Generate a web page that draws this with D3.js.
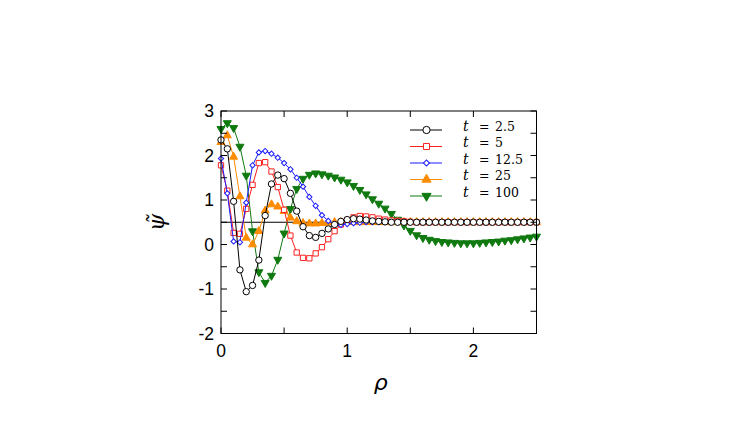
<!DOCTYPE html>
<html lang="en">
<head>
<meta charset="UTF-8">
<title>psi tilde vs rho</title>
<style>
  body { margin: 0; background: #fff; }
  .tick-label { font: 17.5px "Liberation Sans", Arial, sans-serif; fill: #000; }
  .legend text { font: 12.5px "DejaVu Serif", serif; fill: #000; }
  .series path.line { fill: none; stroke-width: 1px; }
</style>
</head>
<body>
<svg width="747" height="421"></svg>
<script src="https://cdn.jsdelivr.net/npm/d3@7"></script>
<script>
// sample positions (rho), step 0.05
var rho = [0.00, 0.05, 0.10, 0.15, 0.20, 0.25, 0.30, 0.35, 0.40, 0.45,
           0.50, 0.55, 0.60, 0.65, 0.70, 0.75, 0.80, 0.85, 0.90, 0.95,
           1.00, 1.05, 1.10, 1.15, 1.20, 1.25, 1.30, 1.35, 1.40, 1.45,
           1.50, 1.55, 1.60, 1.65, 1.70, 1.75, 1.80, 1.85, 1.90, 1.95,
           2.00, 2.05, 2.10, 2.15, 2.20, 2.25, 2.30, 2.35, 2.40, 2.45, 2.50];

var psi_t2_5 = [2.35, 2.15, 0.97, -0.57, -1.06, -0.92, -0.35, 0.65, 1.36, 1.56,
                1.48, 1.15, 0.75, 0.40, 0.20, 0.16, 0.25, 0.35, 0.45, 0.52,
                0.56, 0.58, 0.57, 0.55, 0.53, 0.52, 0.51, 0.50, 0.50, 0.50,
                0.50, 0.50, 0.50, 0.50, 0.50, 0.50, 0.50, 0.50, 0.50, 0.50,
                0.50, 0.50, 0.50, 0.50, 0.50, 0.50, 0.50, 0.50, 0.50, 0.50, 0.50];

var psi_t5 = [1.78, 1.21, 0.26, 0.24, 0.80, 1.34, 1.83, 1.85, 1.64, 1.29,
              0.78, 0.20, -0.18, -0.30, -0.31, -0.20, -0.06, 0.12, 0.30, 0.45,
              0.55, 0.61, 0.64, 0.63, 0.61, 0.58, 0.56, 0.54, 0.53, 0.52,
              0.51, 0.50, 0.50, 0.50, 0.50, 0.50, 0.50, 0.50, 0.50, 0.50,
              0.50, 0.50, 0.50, 0.50, 0.50, 0.50, 0.50, 0.50, 0.50, 0.50, 0.50];

var psi_t12_5 = [1.93, 1.15, 0.07, 0.05, 0.94, 1.78, 2.07, 2.10, 2.04, 1.95,
                 1.83, 1.69, 1.50, 1.30, 1.07, 0.87, 0.66, 0.53, 0.46, 0.44,
                 0.46, 0.48, 0.49, 0.50, 0.50, 0.50, 0.50, 0.50, 0.50, 0.50,
                 0.50, 0.50, 0.50, 0.50, 0.50, 0.50, 0.50, 0.50, 0.50, 0.50,
                 0.50, 0.50, 0.50, 0.50, 0.50, 0.50, 0.50, 0.50, 0.50, 0.50, 0.50];

var psi_t25 = [2.30, 2.45, 1.97, 1.08, 0.15, 0.00, 0.30, 0.76, 0.90, 0.85,
               0.75, 0.60, 0.52, 0.48, 0.47, 0.47, 0.48, 0.49, 0.50, 0.50,
               0.50, 0.50, 0.50, 0.50, 0.50, 0.50, 0.50, 0.50, 0.50, 0.50,
               0.50, 0.50, 0.50, 0.50, 0.50, 0.50, 0.50, 0.50, 0.50, 0.50,
               0.50, 0.50, 0.50, 0.50, 0.50, 0.50, 0.50, 0.50, 0.50, 0.50, 0.50];

var psi_t100 = [2.60, 2.73, 2.62, 2.20, 1.55, 0.30, -0.62, -0.86, -0.70, -0.34,
                0.25, 0.80, 1.25, 1.48, 1.57, 1.60, 1.58, 1.55, 1.51, 1.46,
                1.40, 1.32, 1.23, 1.13, 1.02, 0.92, 0.81, 0.69, 0.56, 0.43,
                0.31, 0.21, 0.15, 0.11, 0.08, 0.06, 0.05, 0.04, 0.03, 0.03,
                0.03, 0.04, 0.05, 0.06, 0.07, 0.09, 0.10, 0.12, 0.14, 0.16, 0.18];

var legendLabels = ["2.5", "5", "12.5", "25", "100"];
var xTicks = [0, 1, 2];
var yTicks = [-2, -1, 0, 1, 2, 3];

// series styles, in legend order
var series = [
  { label: legendLabels[0], values: psi_t2_5, color: "#000000", symbol: d3.symbolCircle, size: 32, fill: "#fff", rot: 0 },
  { label: legendLabels[1], values: psi_t5, color: "#ff2020", symbol: d3.symbolSquare, size: 28, fill: "#fff", rot: 0 },
  { label: legendLabels[2], values: psi_t12_5, color: "#1a1aff", symbol: d3.symbolSquare, size: 14, fill: "#fff", rot: 45 },
  { label: legendLabels[3], values: psi_t25, color: "#ff8c00", symbol: d3.symbolTriangle, size: 28, fill: null, rot: 0 },
  { label: legendLabels[4], values: psi_t100, color: "#107a10", symbol: d3.symbolTriangle, size: 28, fill: null, rot: 180 }
];

var svg = d3.select("svg");
var x0 = 221, x1 = 536.5, y0 = 333.5, y1 = 111;

var x = d3.scaleLinear().domain([0, 2.5]).range([x0, x1]);
var y = d3.scaleLinear().domain([-2, 3]).range([y0, y1]);

// reference line at 0.5
svg.append("line")
  .attr("x1", x0).attr("x2", x1)
  .attr("y1", y(0.5)).attr("y2", y(0.5))
  .attr("stroke", "#000").attr("stroke-width", 1);

var line = d3.line()
  .x(function (d, i) { return x(rho[i]); })
  .y(function (d) { return y(d); });

// draw back to front: green, orange, red, blue, black
var drawOrder = [4, 3, 1, 2, 0];
drawOrder.forEach(function (k) {
  var s = series[k];
  var g = svg.append("g").attr("class", "series");
  g.append("path").attr("class", "line")
    .attr("d", line(s.values))
    .attr("stroke", s.color);
  var sym = d3.symbol().type(s.symbol).size(s.size);
  g.selectAll("path.mark")
    .data(s.values)
    .enter().append("path")
    .attr("class", "mark")
    .attr("d", sym)
    .attr("transform", function (d, i) {
      return "translate(" + x(rho[i]) + "," + y(d) + ") rotate(" + s.rot + ")";
    })
    .attr("fill", s.fill || s.color)
    .attr("stroke", s.color)
    .attr("stroke-width", 1);
});

// frame
svg.append("rect")
  .attr("x", x0).attr("y", y1)
  .attr("width", x1 - x0).attr("height", y0 - y1)
  .attr("fill", "none").attr("stroke", "#000").attr("stroke-width", 1);

// inward ticks on all four sides
var tickLen = 6;
var xt = d3.range(0, 2.51, 0.5);
var yt = d3.range(-2, 3.01, 0.5);
var ticks = svg.append("g").attr("stroke", "#000").attr("stroke-width", 1);
xt.forEach(function (v) {
  ticks.append("line").attr("x1", x(v)).attr("x2", x(v)).attr("y1", y0).attr("y2", y0 - tickLen);
  ticks.append("line").attr("x1", x(v)).attr("x2", x(v)).attr("y1", y1).attr("y2", y1 + tickLen);
});
yt.forEach(function (v) {
  ticks.append("line").attr("x1", x0).attr("x2", x0 + tickLen).attr("y1", y(v)).attr("y2", y(v));
  ticks.append("line").attr("x1", x1).attr("x2", x1 - tickLen).attr("y1", y(v)).attr("y2", y(v));
});

svg.selectAll("text.xl")
  .data(xTicks).enter().append("text")
  .attr("class", "tick-label")
  .attr("x", function (d) { return x(d); })
  .attr("y", y0 + 23)
  .attr("text-anchor", "middle")
  .text(function (d) { return d; });

svg.selectAll("text.yl")
  .data(yTicks).enter().append("text")
  .attr("class", "tick-label")
  .attr("x", x0 - 7)
  .attr("y", function (d) { return y(d) + 6; })
  .attr("text-anchor", "end")
  .text(function (d) { return d; });

// axis titles
svg.append("text")
  .attr("x", (x0 + x1) / 2 + 2)
  .attr("y", 390)
  .attr("text-anchor", "middle")
  .style("font", "italic 22px 'DejaVu Sans', sans-serif")
  .text("ρ");

svg.append("text")
  .attr("transform", "translate(164," + ((y0 + y1) / 2) + ") rotate(-90)")
  .attr("text-anchor", "middle")
  .style("font", "italic 22px 'DejaVu Serif', serif")
  .text("ψ\u0303");

// legend
var legend = svg.append("g").attr("class", "legend");
series.forEach(function (s, i) {
  var ly = 130 + i * 16.5;
  legend.append("line")
    .attr("x1", 410).attr("x2", 442)
    .attr("y1", ly).attr("y2", ly)
    .attr("stroke", s.color).attr("stroke-width", 1);
  legend.append("path")
    .attr("d", d3.symbol().type(s.symbol).size(s.size * 1.3))
    .attr("transform", "translate(426.5," + ly + ") rotate(" + s.rot + ")")
    .attr("fill", s.fill || s.color)
    .attr("stroke", s.color);
  legend.append("text").attr("x", 463).attr("y", ly + 0.5)
    .style("font-style", "italic").style("font-size", "14px").text("t");
  legend.append("text").attr("x", 479).attr("y", ly + 0.5).text("=");
  legend.append("text").attr("x", 495).attr("y", ly + 0.5).text(s.label);
});
</script>
</body>
</html>
